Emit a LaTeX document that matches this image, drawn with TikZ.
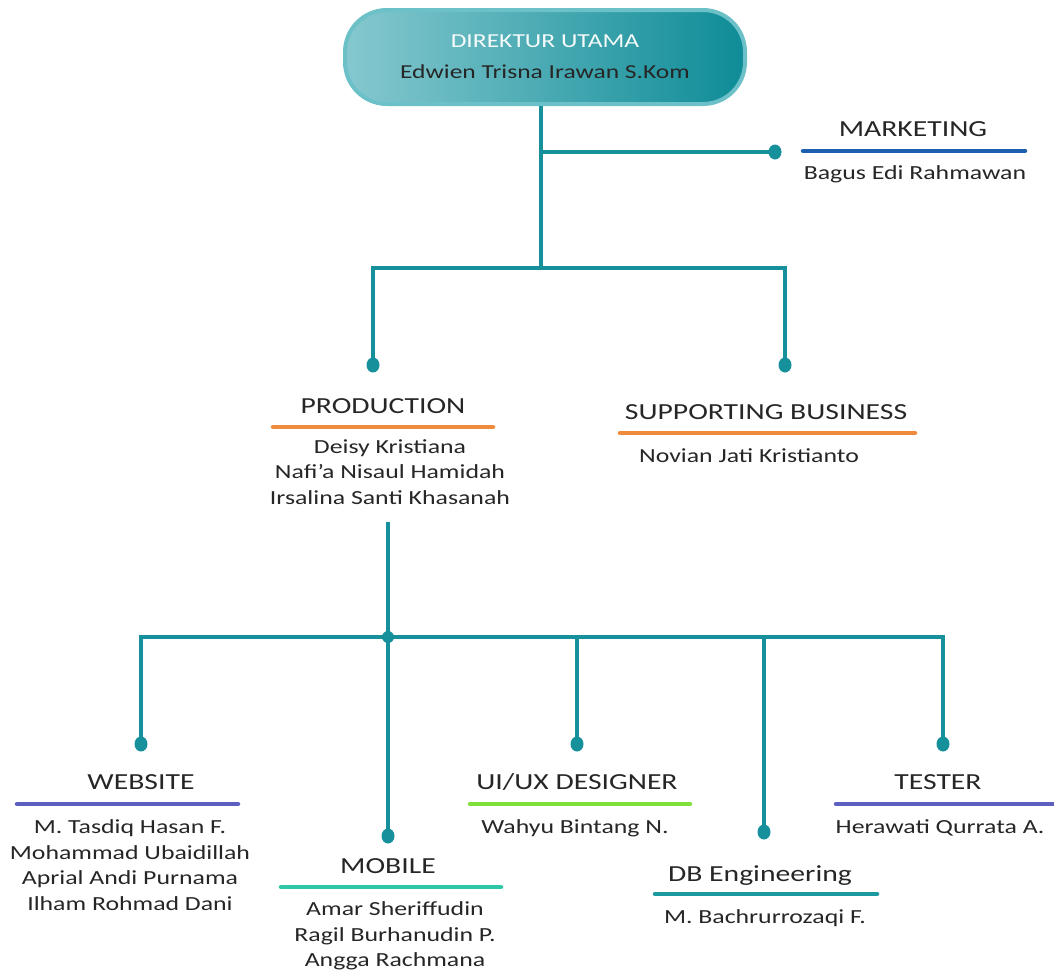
\documentclass[tikz,border=0pt]{standalone}
\usepackage{fontspec}
\setmainfont{Carlito}[FakeStretch=1.29]
\definecolor{conn}{HTML}{16909B}
\definecolor{txtgray}{HTML}{262626}
\definecolor{mktblue}{HTML}{1E5EB0}
\definecolor{prodorange}{HTML}{F08A3C}
\definecolor{webindigo}{HTML}{5A5FC0}
\definecolor{mobteal}{HTML}{2EC8A8}
\definecolor{uigreen}{HTML}{80E03A}
\definecolor{dbteal}{HTML}{1A9AA0}
\definecolor{bossleft}{HTML}{86C8CF}
\definecolor{bossright}{HTML}{0E8C97}
\definecolor{bossborder}{HTML}{6CC0C7}
\begin{document}
\begin{tikzpicture}[x=1pt,y=-1pt,
  connector/.style={draw=conn,line width=3.5pt},
  dotmark/.style={fill=conn},
  ttl/.style={text=txtgray,font=\fontsize{23}{27}\selectfont,inner sep=0pt},
  names/.style={text=txtgray,font=\fontsize{20}{25.6}\selectfont,align=center,inner sep=0pt},
  bar/.style={line width=4.5pt,line cap=round},
  bossbox/.style={rectangle,rounded corners=42pt,minimum width=400pt,minimum height=94pt,
    left color=bossleft,right color=bossright,draw=bossborder,line width=4pt,
    align=center,font=\fontsize{19.8}{31}\selectfont,inner sep=0pt}]
\useasboundingbox (0,0) rectangle (1054,972);

% top box
\node[bossbox] (boss) at (545,57) {\textcolor{white!92!bossleft}{DIREKTUR UTAMA}\\\textcolor{black!85}{Edwien Trisna Irawan S.Kom}};

% coordinates
\coordinate (j0) at (541,152);
\coordinate (mktdot) at (775,152);
\coordinate (j1) at (541,268);
\coordinate (proddot) at (373,365);
\coordinate (supdot) at (785,365);
\coordinate (ps) at (388,522);
\coordinate (j2) at (388,637);
\coordinate (webdot) at (141,744);
\coordinate (mobdot) at (388,836);
\coordinate (uidot) at (577,744);
\coordinate (dbdot) at (764,832);
\coordinate (tesdot) at (943,744);

% titles and names
\node[ttl,anchor=base] (mkt) at (913,136) {MARKETING};
\node[names,anchor=base] (mktn) at (915,179) {Bagus Edi Rahmawan};
\node[ttl,anchor=base] (prod) at (383,413) {PRODUCTION};
\node[names] (prodn) at (390,472) {Deisy Kristiana\\Nafi’a Nisaul Hamidah\\Irsalina Santi Khasanah};
\node[ttl,anchor=base] (sup) at (766,419) {SUPPORTING BUSINESS};
\node[names,anchor=base] (supn) at (749,462) {Novian Jati Kristianto};
\node[ttl,anchor=base] (web) at (141,789) {WEBSITE};
\node[names] (webn) at (130,865) {M. Tasdiq Hasan F.\\Mohammad Ubaidillah\\Aprial Andi Purnama\\Ilham Rohmad Dani};
\node[ttl,anchor=base] (mob) at (388,873) {MOBILE};
\node[names] (mobn) at (395,936) {Amar Sheriffudin\\Ragil Burhanudin P.\\Angga Rachmana};
\node[ttl,anchor=base] (ui) at (577,789) {UI/UX DESIGNER};
\node[names,anchor=base] (uin) at (575,833) {Wahyu Bintang N.};
\node[ttl,anchor=base] (db) at (760,881) {DB Engineering};
\node[names,anchor=base] (dbn) at (765,923) {M. Bachrurrozaqi F.};
\node[ttl,anchor=base] (tes) at (938,789) {TESTER};
\node[names,anchor=base] (tesn) at (940,833) {Herawati Qurrata A.};

% colored bars
\draw[bar,mktblue] (803,151) -- (1025,151);
\draw[bar,prodorange] (273,427) -- (493,427);
\draw[bar,prodorange] (620,433) -- (915,433);
\draw[bar,webindigo] (17,804) -- (238,804);
\draw[bar,mobteal] (281,887) -- (501,887);
\draw[bar,uigreen] (470,804) -- (690,804);
\draw[bar,dbteal] (655,894) -- (877,894);
\draw[bar,webindigo] (836,804) -- (1058,804);

% connectors
\draw[connector] (boss.south -| j1) -- (j1);
\draw[connector] (j0) -- (mktdot);
\draw[connector] (proddot) |- (j1) -| (supdot);
\draw[connector] (ps) -- (j2);
\draw[connector] (webdot) |- (j2) -| (tesdot);
\draw[connector] (j2) -- (mobdot);
\draw[connector] (uidot) |- (j2);
\draw[connector] (dbdot) |- (j2);

% dots
\foreach \d in {mktdot,proddot,supdot,webdot,mobdot,uidot,dbdot,tesdot}
  \fill[dotmark] (\d) ellipse [x radius=6.5pt,y radius=7.5pt];
\fill[dotmark] (j2) circle [radius=6pt];
\end{tikzpicture}
\end{document}
